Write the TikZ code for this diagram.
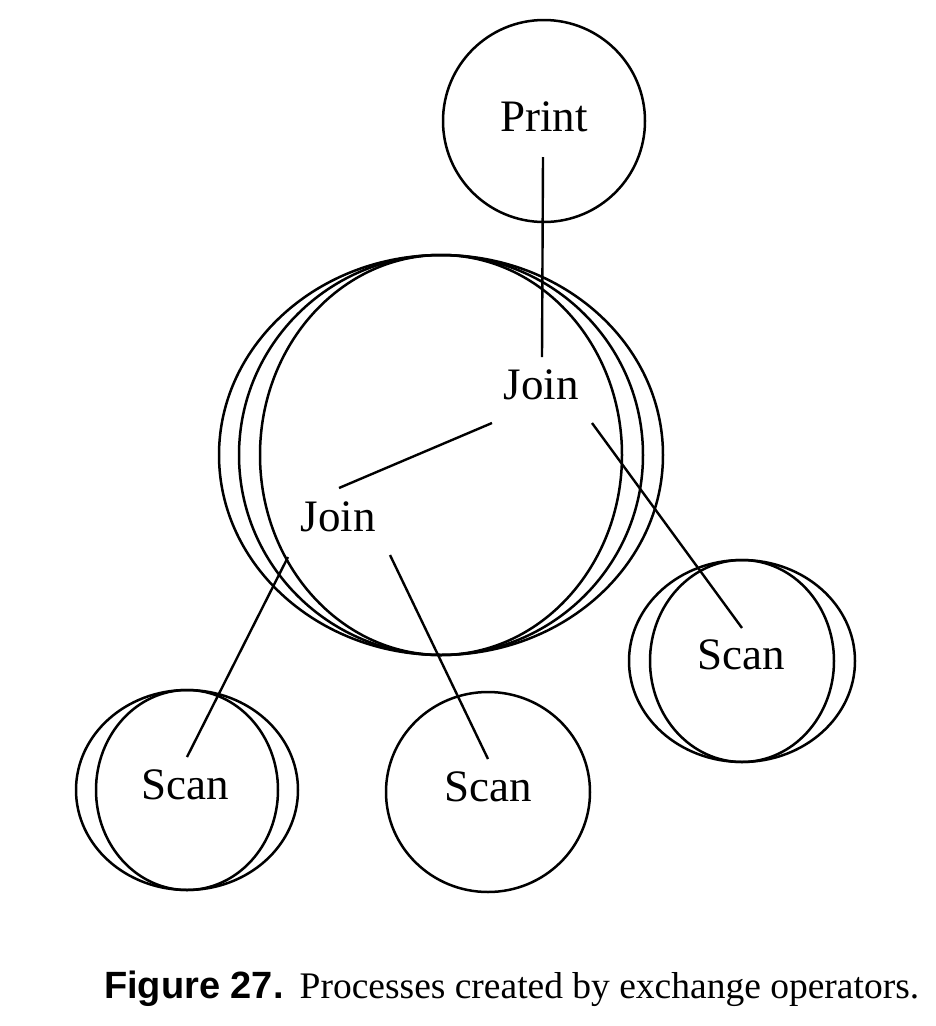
\documentclass[tikz,border=0pt]{standalone}
\usepackage{fontspec}
\setmainfont{Liberation Serif}
\newfontfamily\figsans{Liberation Sans}
\tikzset{
  proc/.style={font=\fontsize{45}{50}\selectfont, inner sep=0pt},
  ring/.style={line width=2.5pt},
  link/.style={line width=2.4pt}
}

\begin{document}
\begin{tikzpicture}[x=1pt,y=-1pt]
    \useasboundingbox (0,0) rectangle (936,1026);

    % process boundaries
    \draw[ring] (544,121) ellipse [x radius=101, y radius=101];
    \foreach \rx in {222,202,181}
      \draw[ring] (441,455) ellipse [x radius=\rx, y radius=200];
    \foreach \rx in {111,91}
      \draw[ring] (187,790) ellipse [x radius=\rx, y radius=100];
    \draw[ring] (488,792) ellipse [x radius=102, y radius=100];
    \foreach \rx in {113,92}
      \draw[ring] (742,661) ellipse [x radius=\rx, y radius=101];

    % operators
    \node[proc] (print) at (544,117) {Print};
    \node[proc] (join1) at (541,385) {Join};
    \node[proc] (join2) at (338,517) {Join};
    \node[proc] (scanL) at (185,785) {Scan};
    \node[proc] (scanM) at (488,787) {Scan};
    \node[proc] (scanR) at (741,655) {Scan};

    \draw[link] ([shift={(-1,40)}]print.center) -- ([shift={(1,-28)}]join1.center);
    \draw[link] ([shift={(-49,38)}]join1.center) -- ([shift={(1,-29)}]join2.center);
    \draw[link] ([shift={(51,38)}]join1.center) -- ([shift={(1,-27)}]scanR.center);
    \draw[link] ([shift={(52,38)}]join2.center) -- ([shift={(0,-28)}]scanM.center);
    \draw[link] ([shift={(-50,40)}]join2.center) -- ([shift={(2,-28)}]scanL.center);

    \node[anchor=base west, inner sep=0pt] (caption) at (104,998)
      {{\fontsize{38}{42}\selectfont\figsans\bfseries Figure 27.}\hspace{16pt}{\fontsize{37.5}{42}\selectfont Processes created by exchange operators.}};
\end{tikzpicture}
\end{document}
